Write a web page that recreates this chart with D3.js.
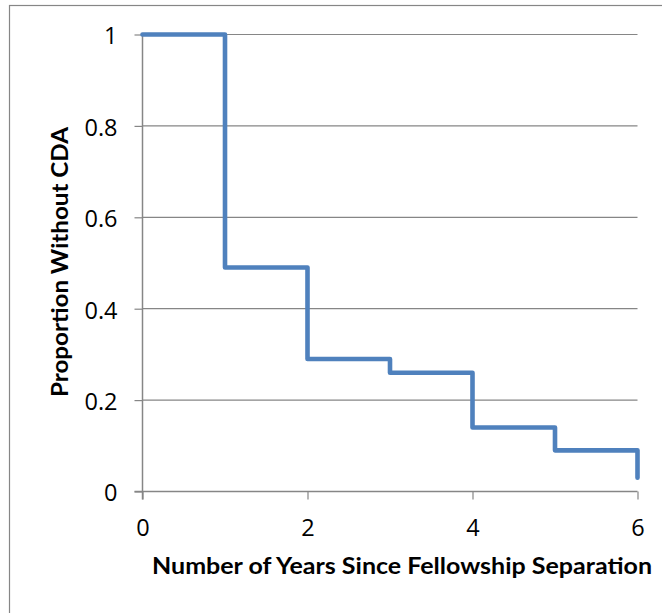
<!DOCTYPE html>
<html>
<head>
<meta charset="utf-8">
<script src="https://cdn.jsdelivr.net/npm/d3@7"></script>
<style>
  html, body { margin: 0; padding: 0; background: #fff; }
  svg { display: block; }
</style>
</head>
<body>
<svg id="chart" width="662" height="613"></svg>
<script>
// Data
const years = [0, 1, 2, 3, 4, 5, 6];
const proportion = [1, 0.49, 0.29, 0.26, 0.14, 0.09, 0.03];
const xTicks = [0, 2, 4, 6];
const yTicks = [0, 0.2, 0.4, 0.6, 0.8, 1];
const xTitle = "Number of Years Since Fellowship Separation";
const yTitle = "Proportion Without CDA";

(function () {
const svg = d3.select("#chart");
const mLeft = 142.5, mRight = 637.5, mTop = 34.5, mBottom = 491.5;
const grey = "#868686";
const font = "Lato, 'Open Sans', sans-serif";
const tickFont = "'Open Sans', sans-serif";

// outer border (only top and left edges visible in frame)
svg.append("rect")
  .attr("x", 9.5).attr("y", 5.5)
  .attr("width", 800).attr("height", 800)
  .attr("fill", "none").attr("stroke", grey).attr("stroke-width", 1.2);

const x = d3.scaleLinear().domain([0, 6]).range([mLeft, mRight]);
const y = d3.scaleLinear().domain([0, 1]).range([mBottom, mTop]);

// gridlines
svg.append("g").selectAll("line").data(yTicks.filter(d => d > 0)).join("line")
  .attr("x1", mLeft).attr("x2", mRight)
  .attr("y1", d => y(d)).attr("y2", d => y(d))
  .attr("stroke", grey).attr("stroke-width", 1.2);

// y axis
const yAxis = svg.append("g")
  .attr("transform", `translate(${mLeft},0)`)
  .call(d3.axisLeft(y).tickValues(yTicks).tickFormat(d => d3.format("~g")(d)).tickSize(8).tickPadding(17));
yAxis.select(".domain").attr("stroke", grey).attr("stroke-width", 1.5).attr("d", `M0,${mBottom + 8}V${mTop}`);
yAxis.selectAll(".tick line").attr("stroke", grey).attr("stroke-width", 1.2);
yAxis.selectAll(".tick text").attr("font-family", tickFont).attr("font-size", 23.5).attr("fill", "#000").attr("dy", "0.4em");

// x axis
const xAxis = svg.append("g")
  .attr("transform", `translate(0,${mBottom})`)
  .call(d3.axisBottom(x).tickValues(xTicks).tickFormat(d3.format("d")).tickSize(8).tickPadding(20));
xAxis.select(".domain").attr("stroke", grey).attr("stroke-width", 1.5).attr("d", `M${mLeft - 8},0H${mRight}`);
xAxis.selectAll(".tick line").attr("stroke", grey).attr("stroke-width", 1.2);
xAxis.selectAll(".tick text").attr("font-family", tickFont).attr("font-size", 23.5).attr("fill", "#000");

// step line
const line = d3.line()
  .x((d, i) => x(years[i]))
  .y(d => y(d))
  .curve(d3.curveStepAfter);
svg.append("path")
  .datum(proportion)
  .attr("d", line)
  .attr("fill", "none")
  .attr("stroke", "#4F81BD")
  .attr("stroke-width", 4.6)
  .attr("stroke-linejoin", "round")
  .attr("stroke-linecap", "round");

// axis titles
svg.append("text")
  .attr("x", 402).attr("y", 574)
  .attr("text-anchor", "middle")
  .attr("font-family", font).attr("font-weight", "bold").attr("font-size", 23)
  .attr("textLength", 500).attr("lengthAdjust", "spacingAndGlyphs")
  .text(xTitle);

svg.append("text")
  .attr("transform", `translate(68,262) rotate(-90)`)
  .attr("text-anchor", "middle")
  .attr("font-family", font).attr("font-weight", "bold").attr("font-size", 23)
  .attr("textLength", 270).attr("lengthAdjust", "spacingAndGlyphs")
  .text(yTitle);
})();
</script>
</body>
</html>
